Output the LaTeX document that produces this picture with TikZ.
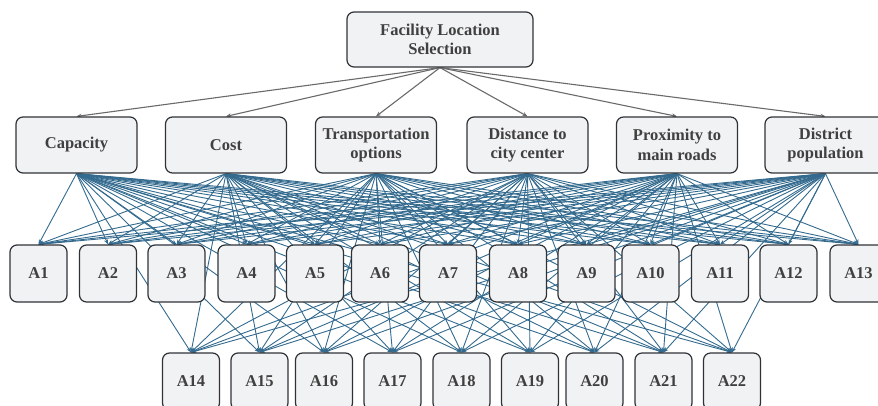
\documentclass[tikz,border=0pt]{standalone}
\usepackage{fontspec}
\setmainfont{Liberation Serif}
\usetikzlibrary{arrows.meta,backgrounds}

\definecolor{boxfill}{HTML}{F1F2F4}
\definecolor{boxline}{HTML}{2F3338}
\definecolor{textgray}{HTML}{404040}
\definecolor{linkblue}{HTML}{336A8E}
\definecolor{linkgray}{HTML}{6A6A6A}

\tikzset{
  box/.style={draw=boxline, line width=1.2pt, fill=boxfill, rounded corners=7pt,
    align=center, text=textgray, inner sep=0pt,
    font=\fontsize{16.5}{19.5}\selectfont\bfseries},
  goalbox/.style={box, minimum width=186pt, minimum height=55pt},
  critbox/.style={box, minimum width=121pt, minimum height=56pt},
  altbox/.style={box, minimum width=57pt, minimum height=57pt},
  toplink/.style={draw=linkgray, line width=1.1pt, -{Stealth[length=5pt,width=4pt]}},
  altlink/.style={draw=linkblue, line width=0.9pt, -{Stealth[length=5pt,width=4pt]}}
}

\begin{document}
\begin{tikzpicture}[x=1pt,y=-1pt]
            \useasboundingbox (0,0) rectangle (878,405);
            \node[goalbox] (goal) at (440,39.5) {Facility Location\\Selection};
            % criteria row
            \foreach \name/\xx/\txt in {cap/76.5/Capacity, cost/226/Cost,
                trans/376/{Transportation\\options}, dist/527.5/{Distance to\\city center},
                prox/677/{Proximity to\\main roads}, pop/825.5/{District\\population}}
              \node[critbox] (\name) at (\xx,145) {\txt};
            % alternatives, upper row
            \foreach \i/\xx in {1/38.5, 2/108, 3/176.5, 4/246.5, 5/315, 6/380, 7/448,
                8/518, 9/586.5, 10/650.5, 11/720, 12/788.5, 13/858.5}
              \node[altbox] (a\i) at (\xx,273.5) {A\i};
            % alternatives, lower row
            \foreach \i/\xx in {14/191, 15/259.5, 16/324, 17/392.5, 18/461.5,
                19/530, 20/594.5, 21/663.5, 22/732}
              \node[altbox] (a\i) at (\xx,381.5) {A\i};
            \begin{scope}[on background layer]
              \foreach \c in {cap,cost,trans,dist,prox,pop}
                \draw[toplink] (goal.south) -- (\c.north);
              \foreach \c in {cap,cost,trans,dist,prox,pop}
                \foreach \i in {1,...,22}
                  \draw[altlink] (\c.south) -- (a\i.north);
            \end{scope}
\end{tikzpicture}
\end{document}
